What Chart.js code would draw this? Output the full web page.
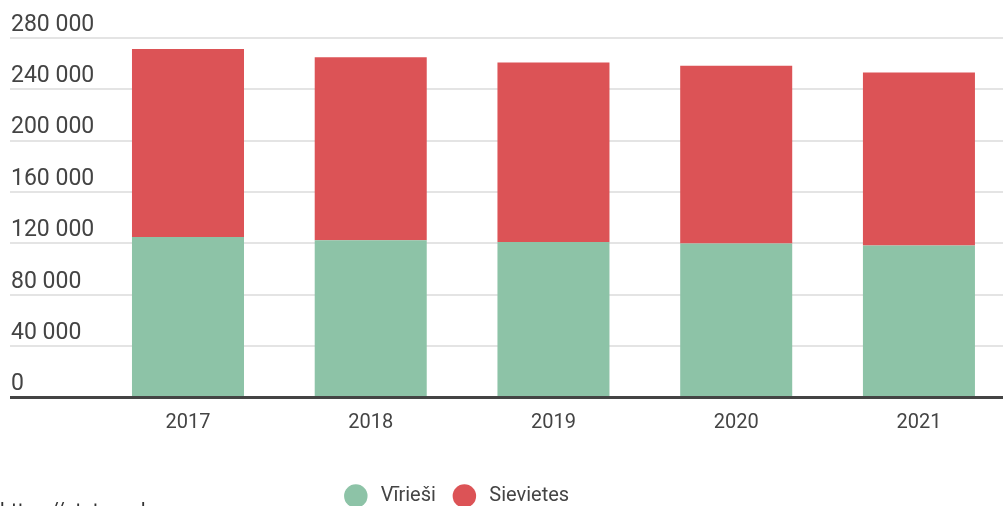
<!DOCTYPE html>
<html>
<head>
<meta charset="utf-8">
<script src="https://cdn.jsdelivr.net/npm/chart.js@4"></script>
<style>
  html, body { margin: 0; padding: 0; background: #fff; overflow: hidden; }
  #wrap { position: relative; width: 1003px; height: 506px; overflow: hidden; }
  #src { position: absolute; left: 0; top: 498px; font: 20px Roboto, sans-serif; color: #333; white-space: nowrap; }
</style>
</head>
<body>
<div id="wrap">
  <canvas id="chart" width="1003" height="516"></canvas>
  <div id="src">https://stat.gov.lv</div>
</div>
<script>
// Gadi un iedzīvotāju skaits pēc dzimuma
const years = [2017, 2018, 2019, 2020, 2021];
const virieshi = [125100, 122400, 121200, 119900, 118300];
const sievietes = [146300, 142700, 139800, 138400, 134900];
const yTicks = [0, 40000, 80000, 120000, 160000, 200000, 240000, 280000];

const fmt = (v) => String(v).replace(/\B(?=(\d{3})+(?!\d))/g, ' ');

// legend sits a bit left of the canvas centre in the original
const legendShift = {
    id: 'legendShift',
    afterLayout(chart) {
        chart.legend.right -= 96;
    },
};

const ctx = document.getElementById('chart').getContext('2d');
new Chart(ctx, {
    type: 'bar',
    data: {
        datasets: [
            {
                label: 'Vīrieši',
                data: years.map((y, i) => ({ x: y, y: virieshi[i] })),
                backgroundColor: '#8dc3a7',
            },
            {
                label: 'Sievietes',
                data: years.map((y, i) => ({ x: y, y: sievietes[i] })),
                backgroundColor: '#dc5356',
            },
        ],
    },
    plugins: [legendShift],
    options: {
        responsive: false,
        animation: false,
        categoryPercentage: 1,
        barPercentage: 0.613,
        layout: { padding: { top: 38, left: 8, right: 0, bottom: 0 } },
        plugins: {
            tooltip: { enabled: false },
            legend: {
                position: 'bottom',
                labels: {
                    usePointStyle: true,
                    pointStyle: 'circle',
                    boxWidth: 20,
                    boxHeight: 16.6,
                    padding: 18.5,
                    color: '#444',
                    font: { family: 'Roboto', size: 20 },
                    generateLabels: (chart) =>
                        Chart.defaults.plugins.legend.labels.generateLabels(chart).map((l) => {
                            l.text = ' ' + l.text;
                            return l;
                        }),
                },
            },
        },
        scales: {
            x: {
                type: 'linear',
                stacked: true,
                offset: false,
                min: 2016.026,
                max: 2021.46,
                grid: { display: false, offset: false },
                border: { display: false },
                afterBuildTicks: (axis) => {
                    axis.ticks = years.map((v) => ({ value: v }));
                },
                afterFit: (axis) => {
                    axis.height += 28;
                },
                ticks: {
                    padding: 5,
                    color: '#444',
                    font: { family: 'Roboto', size: 20 },
                    callback: (v) => String(v),
                },
            },
            y: {
                stacked: true,
                min: 0,
                max: 280000,
                afterBuildTicks: (axis) => {
                    axis.ticks = yTicks.map((v) => ({ value: v }));
                },
                border: { display: false },
                grid: {
                    drawTicks: false,
                    color: (c) => (c.tick && c.tick.value === 0 ? '#444' : '#e4e4e4'),
                    lineWidth: (c) => (c.tick && c.tick.value === 0 ? 3 : 2),
                },
                ticks: {
                    mirror: true,
                    padding: 1,
                    labelOffset: -13,
                    color: '#444',
                    font: { family: 'Roboto', size: 23 },
                    callback: (v) => fmt(v),
                },
            },
        },
    },
});
</script>
</body>
</html>
